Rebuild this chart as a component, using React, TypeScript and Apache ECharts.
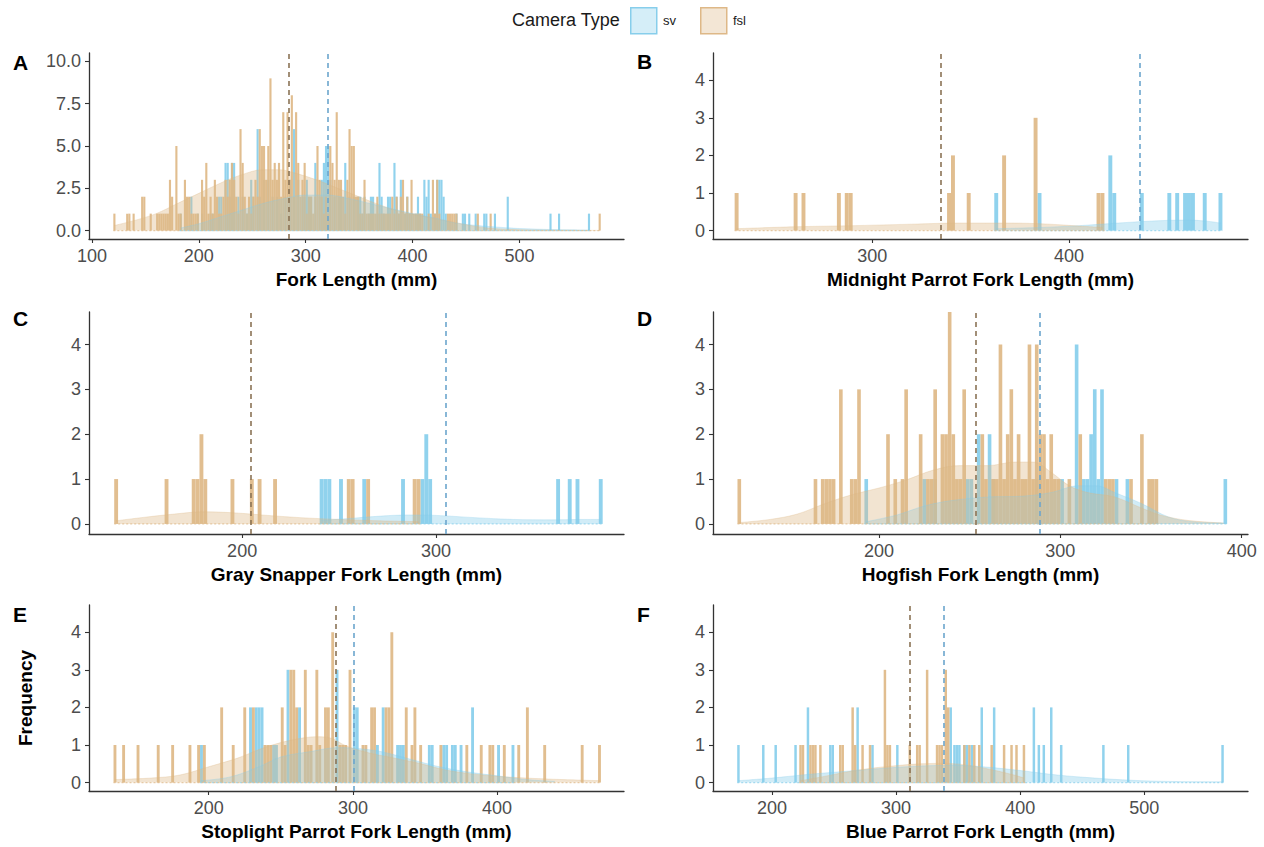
import React, { useEffect, useRef } from "react";
import * as echarts from "echarts";

// ---------- data (bin centre mm, count); bins are 2 mm wide ----------
const BIN = 2;

// Panel A: all species
const aFsl = [[121,1],[133,1],[135,1],[139,1],[147,2],[149,2],[155,1],[161,1],[163,1],[165,1],[167,1],[169,1],[171,1],[173,3],[175,2],[179,5],[181,1],[183,1],[187,3],[189,2],[191,2],[193,1],[195,1],[197,1],[199,1],[203,3],[205,2],[207,4],[209,1],[211,2],[213,1],[215,3],[217,2],[219,1],[221,1],[223,2],[225,3],[227,2],[229,3],[231,4],[233,3],[235,2],[237,1],[239,6],[241,4],[243,2],[245,1],[247,2],[249,1],[251,2],[253,3],[255,2],[257,6],[259,5],[261,5],[263,3],[265,5],[267,9],[269,3],[271,4],[273,3],[275,4],[277,2],[279,7],[281,3],[283,7],[285,3],[287,8],[289,2],[291,7],[293,4],[295,2],[297,3],[299,4],[301,1],[303,2],[305,2],[307,1],[309,2],[311,5],[313,3],[315,2],[317,1],[319,2],[321,1],[323,5],[325,4],[327,3],[329,7],[331,3],[333,3],[335,2],[337,1],[339,3],[341,6],[343,5],[345,5],[347,2],[349,2],[351,1],[353,1],[355,3],[357,1],[359,1],[361,1],[363,1],[365,1],[367,2],[369,1],[371,1],[373,1],[375,1],[377,1],[379,1],[381,2],[383,1],[385,2],[387,1],[389,2],[391,3],[393,1],[395,2],[397,1],[399,3],[401,1],[403,1],[405,1],[407,1],[409,1],[415,1],[419,3],[421,1],[423,3],[425,1],[433,1],[435,1],[437,1],[439,1],[441,1],[461,1],[473,1],[575,1]];
const aSv = [[183,1],[193,2],[199,1],[203,1],[211,1],[213,1],[219,2],[221,2],[225,4],[227,4],[229,2],[231,4],[233,4],[237,2],[241,2],[245,1],[249,3],[251,2],[255,6],[257,2],[261,3],[265,3],[269,2],[273,2],[277,1],[281,2],[285,3],[289,6],[293,3],[297,2],[299,2],[301,3],[303,2],[305,2],[309,4],[313,2],[315,3],[317,4],[319,5],[321,5],[323,3],[327,2],[331,2],[333,2],[337,4],[341,2],[345,2],[349,2],[351,2],[353,1],[355,2],[359,1],[361,2],[363,2],[367,1],[369,4],[371,2],[373,1],[377,2],[379,2],[383,4],[385,2],[387,1],[389,3],[393,1],[395,2],[397,1],[399,1],[403,1],[405,2],[407,1],[411,3],[413,2],[415,3],[417,1],[421,1],[423,3],[425,3],[427,3],[429,2],[431,1],[441,1],[447,1],[449,1],[453,1],[459,1],[467,1],[469,1],[477,1],[489,2],[529,1],[537,1],[565,1]];
const aFslDens = [[121,0.3],[140,0.6],[160,1.0],[180,1.6],[200,2.2],[220,2.8],[240,3.3],[260,3.6],[275,3.6],[290,3.4],[310,3.0],[330,2.5],[350,2.0],[370,1.5],[390,1.1],[410,0.85],[430,0.6],[450,0.35],[470,0.15],[500,0.05],[540,0.02],[575,0.01]];
const aSvDens = [[183,0.15],[200,0.4],[220,0.8],[240,1.2],[260,1.6],[280,1.9],[300,2.1],[320,2.1],[340,1.9],[360,1.6],[380,1.3],[400,1.0],[420,0.75],[440,0.45],[460,0.3],[480,0.2],[500,0.12],[530,0.06],[565,0.03]];
const aFslMean = 284;
const aSvMean = 321;

// Panel B: Midnight Parrot
const bFsl = [[231,1],[261,1],[265,1],[283,1],[287,1],[289,1],[339,1],[341,2],[349,1],[367,2],[383,3],[415,1],[417,1]];
const bSv = [[363,1],[385,1],[421,2],[423,1],[437,1],[451,1],[455,1],[459,1],[461,1],[463,1],[469,1],[477,1]];
const bFslDens = [[231,0.05],[260,0.1],[290,0.13],[320,0.17],[345,0.2],[370,0.2],[390,0.17],[405,0.12],[417,0.08]];
const bSvDens = [[363,0.05],[385,0.08],[405,0.13],[425,0.2],[445,0.26],[460,0.28],[470,0.25],[477,0.2]];
const bFslMean = 335;
const bSvMean = 436;

// Panel C: Gray Snapper
const cFsl = [[135,1],[161,1],[175,1],[177,1],[179,2],[181,1],[195,1],[205,1],[209,1],[217,1],[255,1],[257,1],[265,1],[289,1],[291,1]];
const cSv = [[241,1],[243,1],[245,1],[251,1],[263,1],[283,1],[293,1],[295,2],[297,1],[363,1],[369,1],[373,1],[385,1]];
const cFslDens = [[135,0.07],[150,0.15],[165,0.22],[180,0.27],[195,0.25],[210,0.2],[230,0.14],[250,0.1],[270,0.07],[291,0.05]];
const cSvDens = [[241,0.08],[255,0.12],[270,0.17],[285,0.2],[300,0.19],[320,0.14],[340,0.1],[360,0.09],[375,0.1],[385,0.1]];
const cFslMean = 204.5;
const cSvMean = 305;

// Panel D: Hogfish
const dFsl = [[123,1],[165,1],[169,1],[171,1],[173,1],[175,1],[179,3],[185,1],[187,1],[189,3],[205,2],[209,1],[213,1],[215,3],[223,2],[227,1],[229,1],[231,3],[235,2],[237,2],[239,5],[241,2],[243,1],[245,1],[247,3],[257,2],[259,1],[263,1],[265,1],[267,4],[269,1],[271,2],[273,3],[275,1],[277,2],[279,1],[281,1],[283,4],[285,1],[287,4],[289,2],[291,2],[293,1],[295,2],[297,1],[299,1],[305,1],[311,2],[325,1],[327,1],[329,1],[339,1],[345,2],[349,1],[351,1],[353,1]];
const dSv = [[193,1],[225,1],[231,1],[249,1],[251,1],[255,2],[261,2],[263,1],[287,1],[301,1],[309,4],[313,1],[315,1],[317,2],[319,3],[321,1],[323,3],[331,1],[337,1],[391,1]];
const dFslDens = [[123,0.03],[140,0.1],[155,0.22],[170,0.45],[185,0.65],[200,0.8],[215,0.98],[230,1.2],[245,1.3],[260,1.3],[275,1.38],[285,1.38],[295,1.15],[305,0.85],[315,0.7],[330,0.6],[345,0.35],[355,0.2],[370,0.08],[390,0.02]];
const dSvDens = [[193,0.05],[210,0.2],[225,0.4],[240,0.52],[260,0.6],[280,0.62],[295,0.7],[310,0.85],[320,0.85],[330,0.7],[345,0.45],[360,0.15],[375,0.04],[391,0.02]];
const dFslMean = 253.5;
const dSvMean = 288.5;

// Panel E: Stoplight Parrot
const eFsl = [[135,1],[141,1],[151,1],[165,1],[175,1],[187,1],[193,1],[197,1],[209,2],[217,1],[225,2],[231,2],[239,1],[241,1],[243,1],[251,2],[253,1],[257,3],[259,3],[261,2],[267,3],[269,1],[271,1],[275,3],[277,1],[281,2],[283,2],[286,4],[291,1],[293,1],[295,1],[298,3],[307,1],[309,1],[313,2],[315,2],[323,2],[325,2],[327,4],[337,2],[341,1],[343,2],[347,1],[361,1],[379,1],[389,1],[395,1],[397,1],[405,1],[415,1],[421,2],[433,1],[459,1],[471,1]];
const eSv = [[195,1],[229,2],[233,2],[235,2],[237,2],[245,1],[247,1],[255,3],[263,2],[289,3],[301,2],[303,2],[317,1],[321,2],[331,1],[333,1],[335,1],[353,1],[355,1],[363,1],[365,1],[369,1],[371,1],[375,1],[383,2],[401,1],[411,1]];
const eFslDens = [[135,0.08],[160,0.12],[180,0.2],[200,0.42],[220,0.65],[240,0.95],[260,1.15],[275,1.22],[285,1.18],[295,0.98],[310,0.8],[325,0.68],[345,0.52],[365,0.33],[390,0.2],[420,0.12],[445,0.08],[471,0.05]];
const eSvDens = [[195,0.05],[215,0.15],[235,0.42],[250,0.68],[270,0.82],[290,0.93],[305,0.9],[320,0.82],[340,0.62],[360,0.42],[380,0.28],[400,0.18],[420,0.08],[440,0.03]];
const eFslMean = 288;
const eSvMean = 300.5;

// Panel F: Blue Parrot
const fFsl = [[223,1],[225,1],[231,1],[233,1],[235,1],[239,1],[255,1],[257,1],[265,2],[267,1],[273,1],[279,1],[291,3],[293,1],[295,1],[311,1],[317,1],[319,1],[325,3],[333,1],[335,1],[337,1],[340,3],[342,2],[355,1],[359,1],[363,1],[367,1],[377,1],[387,1],[393,1],[397,1],[403,1]];
const fSv = [[173,1],[193,1],[203,1],[219,1],[229,2],[247,1],[249,1],[269,2],[281,1],[301,1],[344,2],[347,1],[349,1],[351,1],[355,1],[357,1],[361,1],[369,2],[379,2],[411,2],[415,1],[419,1],[425,2],[433,1],[467,1],[487,1],[563,1]];
const fFslDens = [[223,0.05],[240,0.15],[260,0.28],[280,0.38],[300,0.45],[320,0.5],[340,0.51],[360,0.45],[380,0.32],[395,0.2],[403,0.12]];
const fSvDens = [[173,0.05],[200,0.12],[230,0.22],[260,0.3],[290,0.38],[320,0.44],[345,0.46],[370,0.42],[400,0.32],[430,0.2],[460,0.12],[490,0.06],[520,0.03],[563,0.02]];
const fFslMean = 311;
const fSvMean = 338.5;

// axis ticks / labels
const tags = ["A", "B", "C", "D", "E", "F"];
const titles = [
  "Fork Length (mm)",
  "Midnight Parrot Fork Length (mm)",
  "Gray Snapper Fork Length (mm)",
  "Hogfish Fork Length (mm)",
  "Stoplight Parrot Fork Length (mm)",
  "Blue Parrot Fork Length (mm)",
];
const xTicksA = [100, 200, 300, 400, 500];
const xTicksB = [300, 400];
const xTicksC = [200, 300];
const xTicksD = [200, 300, 400];
const xTicksE = [200, 300, 400];
const xTicksF = [200, 300, 400, 500];
const yTicksA = [0, 2.5, 5, 7.5, 10];
const yTicksSpecies = [0, 1, 2, 3, 4];
const xRanges = [[97.25, 597.75], [219, 491], [121, 397], [108.5, 403.5], [117, 488], [152.5, 583.5]];
const yRangeA = [-0.5, 10.5];
const yRangeSpecies = [-0.225, 4.725];
const legendTitle = "Camera Type";
const groups = ["sv", "fsl"];

// ---------- styling ----------
const FONT = "'Liberation Sans', Arial, Helvetica, sans-serif";
const SV_COL = "#87CEEB";
const FSL_COL = "#DEB887";
const SV_MEAN_COL = "#6CA6CD";
const FSL_MEAN_COL = "#8B7355";

const layout = [
  { left: 89, top: 53, width: 535, height: 186 },
  { left: 713, top: 53, width: 535, height: 186 },
  { left: 89, top: 312, width: 535, height: 222 },
  { left: 713, top: 312, width: 535, height: 222 },
  { left: 89, top: 605, width: 535, height: 186 },
  { left: 713, top: 605, width: 535, height: 186 },
];
const tagPos = [[13, 63], [637, 62], [13, 319], [637, 319], [13, 615], [637, 615]];

const panels = [
  { fsl: aFsl, sv: aSv, fslDens: aFslDens, svDens: aSvDens, fslMean: aFslMean, svMean: aSvMean, xTicks: xTicksA, yTicks: yTicksA, yRange: yRangeA, dec: 1 },
  { fsl: bFsl, sv: bSv, fslDens: bFslDens, svDens: bSvDens, fslMean: bFslMean, svMean: bSvMean, xTicks: xTicksB, yTicks: yTicksSpecies, yRange: yRangeSpecies, dec: 0 },
  { fsl: cFsl, sv: cSv, fslDens: cFslDens, svDens: cSvDens, fslMean: cFslMean, svMean: cSvMean, xTicks: xTicksC, yTicks: yTicksSpecies, yRange: yRangeSpecies, dec: 0 },
  { fsl: dFsl, sv: dSv, fslDens: dFslDens, svDens: dSvDens, fslMean: dFslMean, svMean: dSvMean, xTicks: xTicksD, yTicks: yTicksSpecies, yRange: yRangeSpecies, dec: 0 },
  { fsl: eFsl, sv: eSv, fslDens: eFslDens, svDens: eSvDens, fslMean: eFslMean, svMean: eSvMean, xTicks: xTicksE, yTicks: yTicksSpecies, yRange: yRangeSpecies, dec: 0 },
  { fsl: fFsl, sv: fSv, fslDens: fFslDens, svDens: fSvDens, fslMean: fFslMean, svMean: fSvMean, xTicks: xTicksF, yTicks: yTicksSpecies, yRange: yRangeSpecies, dec: 0 },
];

function barSeries(name: string, data: number[][], color: string, gi: number) {
  return {
    type: "custom",
    name,
    xAxisIndex: gi,
    yAxisIndex: gi,
    clip: true,
    data,
    encode: { x: 0, y: 1 },
    renderItem: (params: any, api: any) => {
      const x = api.value(0);
      const y = api.value(1);
      const p0 = api.coord([x - BIN / 2, y]);
      const p1 = api.coord([x + BIN / 2, 0]);
      const cs = params.coordSys;
      const top = Math.max(p0[1], cs.y);
      const w = Math.max(p1[0] - p0[0], 2);
      const cx = (p0[0] + p1[0]) / 2;
      return {
        type: "rect",
        shape: { x: cx - w / 2, y: top, width: w, height: p1[1] - top },
        style: { fill: color, opacity: 0.92 },
      };
    },
  };
}

function densSeries(name: string, data: number[][], color: string, meanColor: string, mean: number, gi: number) {
  return {
    type: "line",
    name,
    xAxisIndex: gi,
    yAxisIndex: gi,
    data,
    smooth: 0.35,
    symbol: "none",
    silent: true,
    lineStyle: { width: 0.6, color, opacity: 0.5 },
    areaStyle: { color, opacity: 0.38 },
    markLine: {
      silent: true,
      symbol: ["none", "none"],
      label: { show: false },
      lineStyle: { type: [5, 4], width: 1.6, color: meanColor, opacity: 1 },
      data: [{ xAxis: mean }],
    },
    z: 3,
  };
}

function baseLine(name: string, data: number[][], color: string, gi: number) {
  const xs = data.map((d) => d[0]);
  const lo = Math.min(...xs) - BIN / 2;
  const hi = Math.max(...xs) + BIN / 2;
  return {
    type: "line",
    name,
    xAxisIndex: gi,
    yAxisIndex: gi,
    data: [[lo, 0], [hi, 0]],
    symbol: "none",
    silent: true,
    lineStyle: { width: 1.2, color, type: [2, 2], opacity: 0.7 },
    z: 4,
  };
}

export default function App() {
  const ref = useRef<HTMLDivElement>(null);
  useEffect(() => {
    document.body.style.margin = "0";
    if (!ref.current) return;
    const chart = echarts.init(ref.current, null, { renderer: "svg" });

    const grid = layout.map((g) => ({ ...g, containLabel: false }));
    const xAxis = panels.map((p, i) => ({
      type: "value",
      gridIndex: i,
      min: xRanges[i][0],
      max: xRanges[i][1],
      name: titles[i],
      nameLocation: "middle",
      nameGap: 31,
      nameTextStyle: { fontFamily: FONT, fontSize: 19, fontWeight: "bold", color: "#000" },
      axisLine: { show: true, onZero: false, lineStyle: { color: "#333", width: 1.3 } },
      axisTick: { show: true, length: 4, lineStyle: { color: "#333", width: 1.1 }, customValues: p.xTicks },
      axisLabel: { fontFamily: FONT, fontSize: 18, color: "#4D4D4D", margin: 8, customValues: p.xTicks },
      splitLine: { show: false },
    }));
    const yAxis = panels.map((p, i) => ({
      type: "value",
      gridIndex: i,
      min: p.yRange[0],
      max: p.yRange[1],
      name: i === 4 ? "Frequency" : "",
      nameLocation: "middle",
      nameGap: 54,
      nameTextStyle: { fontFamily: FONT, fontSize: 19, fontWeight: "bold", color: "#000" },
      axisLine: { show: true, onZero: false, lineStyle: { color: "#333", width: 1.3 } },
      axisTick: { show: true, length: 4, lineStyle: { color: "#333", width: 1.1 }, customValues: p.yTicks },
      axisLabel: {
        fontFamily: FONT,
        fontSize: 18,
        color: "#4D4D4D",
        margin: 8,
        customValues: p.yTicks,
        formatter: (v: number) => v.toFixed(p.dec),
      },
      splitLine: { show: false },
    }));

    const series: any[] = [];
    panels.forEach((p, i) => {
      series.push(baseLine(groups[0], p.sv, SV_COL, i));
      series.push(baseLine(groups[1], p.fsl, FSL_COL, i));
      series.push(barSeries(groups[0], p.sv, SV_COL, i));
      series.push(barSeries(groups[1], p.fsl, FSL_COL, i));
      series.push(densSeries(groups[0], p.svDens, SV_COL, SV_MEAN_COL, p.svMean, i));
      series.push(densSeries(groups[1], p.fslDens, FSL_COL, FSL_MEAN_COL, p.fslMean, i));
    });

    const graphic: any[] = tags.map((t, i) => ({
      type: "text",
      left: tagPos[i][0],
      top: tagPos[i][1] - 11,
      style: { text: t, font: `bold 21px ${FONT}`, fill: "#000" },
    }));
    graphic.push(
      { type: "text", left: 512, top: 11, style: { text: legendTitle, font: `18px ${FONT}`, fill: "#1A1A1A" } },
      { type: "rect", left: 630, top: 7, shape: { width: 26, height: 26 }, style: { fill: "rgba(135,206,235,0.35)", stroke: SV_COL, lineWidth: 1.5 } },
      { type: "text", left: 663, top: 14, style: { text: groups[0], font: `13px ${FONT}`, fill: "#1A1A1A" } },
      { type: "rect", left: 700, top: 7, shape: { width: 26, height: 26 }, style: { fill: "rgba(222,184,135,0.35)", stroke: FSL_COL, lineWidth: 1.5 } },
      { type: "text", left: 733, top: 14, style: { text: groups[1], font: `13px ${FONT}`, fill: "#1A1A1A" } }
    );

    chart.setOption({
      animation: false,
      backgroundColor: "#fff",
      textStyle: { fontFamily: FONT },
      grid,
      xAxis,
      yAxis,
      series,
      graphic,
    });
    return () => chart.dispose();
  }, []);
  return <div ref={ref} style={{ width: 1264, height: 847 }} />;
}
